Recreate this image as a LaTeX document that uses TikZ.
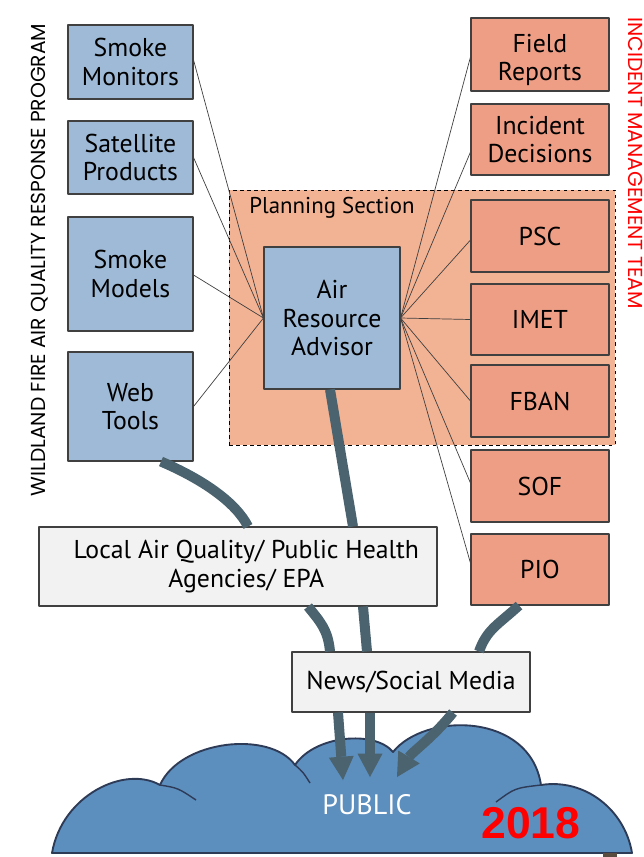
\documentclass[tikz,border=0pt]{standalone}
\usepackage{fontspec}
\setmainfont{PT Sans}
\newfontfamily\yearfont{Liberation Sans}
\newfontfamily\sidefont{Poppins}
\usetikzlibrary{arrows.meta,calc}

\definecolor{advblue}{HTML}{9EBAD6}
\definecolor{imtred}{HTML}{EF9E86}
\definecolor{planred}{HTML}{F2B294}
\definecolor{agencygray}{HTML}{F2F2F2}
\definecolor{boxline}{HTML}{404040}
\definecolor{flowgray}{HTML}{4A636E}
\definecolor{cloudblue}{HTML}{5C8EBE}
\definecolor{cloudline}{HTML}{2E3B57}

\begin{document}
\begin{tikzpicture}[x=0.03cm, y=-0.03cm, line join=round,
  box/.style={draw=boxline, line width=0.9pt, align=center, inner sep=1pt,
    font=\fontsize{22}{24}\selectfont},
  srcbox/.style={box, fill=advblue, minimum width=3.75cm},
  imtbox/.style={box, fill=imtred, minimum width=4.14cm},
  link/.style={draw=boxline, line width=0.6pt},
  flow/.style={draw=flowgray, line width=0.3cm},
  flowhead/.style={flow, -{Triangle[length=0.7cm, width=0.75cm, line width=0pt]}}]

\useasboundingbox (0,0) rectangle (644,857);

% Draw the planning section
\node[draw=black, dashed, line width=0.6pt, fill=planred, minimum width=11.58cm,
  minimum height=7.65cm] (plan) at (422,317.5) {};
\node[font=\fontsize{19.5}{20}\selectfont] (plantitle) at (332,208) {Planning Section};

% Draw the program boxes
\node[srcbox, minimum height=2.22cm] (mon) at (130.5,62) {Smoke\\Monitors};
\node[srcbox, minimum height=2.19cm] (sat) at (130.5,157.5) {Satellite\\Products};
\node[srcbox, minimum height=3.42cm] (mod) at (130.5,274) {Smoke\\Models};
\node[srcbox, minimum height=3.27cm] (web) at (130.5,406.5) {Web\\Tools};
\node[box, fill=advblue, minimum width=4.08cm, minimum height=4.26cm] (ara) at (332,318)
  {Air\\Resource\\Advisor};

% Draw the team boxes
\node[imtbox, minimum height=2.19cm] (field) at (540,54.5) {\rule{0pt}{0.9cm}Field\\Reports};
\node[imtbox, minimum height=2.13cm] (incid) at (540,139.5) {Incident\\Decisions};
\node[imtbox, minimum height=2.16cm] (psc) at (540,236) {PSC};
\node[imtbox, minimum height=2.13cm] (imet) at (540,319.5) {IMET};
\node[imtbox, minimum height=2.16cm] (fban) at (540,401) {FBAN};
\node[imtbox, minimum height=2.16cm] (sof) at (540,486) {SOF};
\node[imtbox, minimum height=2.13cm] (pio) at (540,569.5) {PIO};

% Draw the outlets
\node[box, fill=agencygray, minimum width=11.94cm, minimum height=2.37cm] (local) at (238,566.5)
  {\hspace{0.5cm}Local Air Quality/ Public Health\\\hspace{0.5cm}Agencies/ EPA};
\node[box, fill=agencygray, minimum width=7.14cm, minimum height=1.8cm] (news) at (411,682)
  {News/Social Media};

% Draw the thin links
\foreach \n/\d in {mon/-2, sat/0, mod/1, web/0}
  \draw[link] ($(\n.east)+(0,\d)$) -- (ara.west);
\foreach \n/\d in {field/2.5, incid/12.5, psc/4, imet/0, fban/0, sof/-3, pio/-6.5}
  \draw[link] (ara.east) -- ($(\n.west)+(0,\d)$);

% Draw the public cloud
\fill[cloudblue] (52,853) .. controls (62,795) and (125,765) .. (160,785)
  .. controls (180,740) and (270,730) .. (295,765)
  .. controls (315,735) and (375,730) .. (393,752)
  .. controls (425,712) and (530,712) .. (541,785)
  .. controls (585,778) and (625,810) .. (632,853) -- cycle;
\draw[cloudline, line width=1.6pt] (52,853) .. controls (62,795) and (125,765) .. (160,785)
  .. controls (180,740) and (270,730) .. (295,765)
  .. controls (315,735) and (375,730) .. (393,752)
  .. controls (425,712) and (530,712) .. (541,785)
  .. controls (585,778) and (625,810) .. (632,853) -- cycle;
\draw[cloudline, line width=1.2pt] (160,785) .. controls (178,788) .. (196,800);
\draw[cloudline, line width=1.2pt] (295,765) .. controls (303,772) .. (310,783);
\draw[cloudline, line width=1.2pt] (541,785) .. controls (515,788) .. (496,802);
\fill[boxline!80!brown] (603,853) rectangle (617,857);
\node[text=white, font=\fontsize{24}{24}\selectfont] (public) at (367,805) {PUBLIC};
\node[text=red, font=\yearfont\bfseries\fontsize{38}{38}\selectfont] (year) at (531,823) {2018};
\coordinate (tipa) at (343,780);
\coordinate (tipb) at (370,777);
\coordinate (tipc) at (397,777);

% Draw the flows
\draw[flow] ($(web.south)+(30.5,0)$) .. controls +(42,18) and +(-12,-24) .. ($(local.north)+(10,0)$);
\draw[flow] ($(ara.south)+(-2,0)$) -- ($(local.north)+(115,0)$);
\draw[flow] ($(local.south)+(70,0)$) .. controls +(12,15) and +(-2,-22) .. ($(news.north)+(-81,0)$);
\draw[flow] ($(local.south)+(125,0)$) -- ($(news.north)+(-44,0)$);
\draw[flow] ($(pio.south)+(-21,0)$) .. controls +(-22,20) and +(8,-22) .. ($(news.north)+(68,0)$);
\draw[flowhead] ($(news.south)+(-73,0)$) -- (tipa);
\draw[flowhead] ($(news.south)+(-41,0)$) -- (tipb);
\draw[flowhead] ($(news.south)+(42,0)$) .. controls +(-20,25) and +(15,-25) .. (tipc);

% Draw the side titles
\node[rotate=90, font=\sidefont\fontsize{17.3}{17}\selectfont] (wfarp) at (40,260)
  {WILDLAND FIRE AIR QUALITY RESPONSE PROGRAM};
\node[rotate=-90, text=red, font=\sidefont\fontsize{17.3}{17}\selectfont] (imt) at (636,163)
  {INCIDENT MANAGEMENT TEAM};

\end{tikzpicture}
\end{document}
